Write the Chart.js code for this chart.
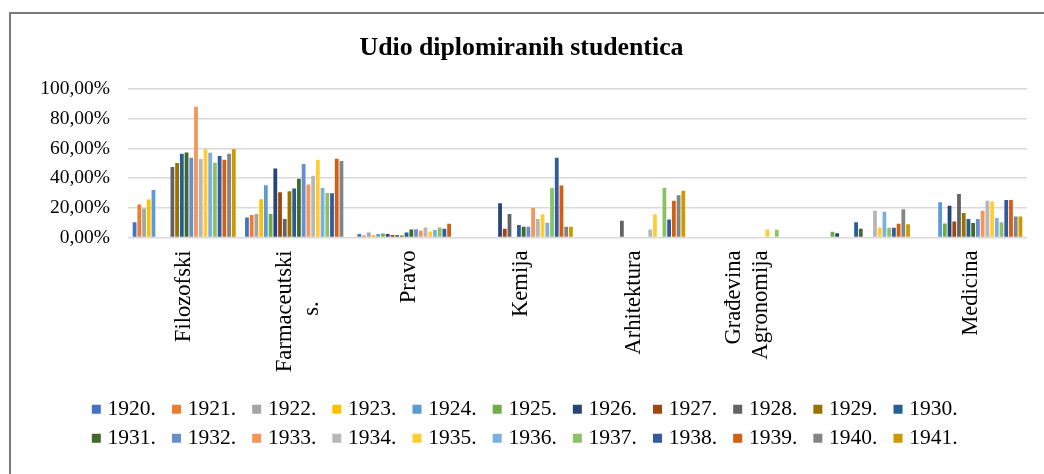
<!DOCTYPE html>
<html><head><meta charset="utf-8">
<script src="https://cdn.jsdelivr.net/npm/chart.js@4"></script>
<style>
html,body{margin:0;padding:0;background:#fff;}
#wrap{position:relative;width:1044px;height:474px;overflow:hidden;}
#frame{position:absolute;left:9px;top:12px;width:1100px;height:500px;border-left:2px solid #7a7a7a;border-top:2px solid #7a7a7a;}
canvas{position:absolute;left:0;top:0;}
</style></head>
<body><div id="wrap"><div id="frame"></div><canvas id="c" width="1044" height="474"></canvas></div>
<script>
const categories = ['Filozofski', ['Farmaceutski', 's.\u00A0\u00A0\u00A0\u00A0\u00A0\u00A0\u00A0\u00A0\u00A0'], 'Pravo', 'Kemija', 'Arhitektura', ['Građevina', 'Agronomija'], '', 'Medicina'];
const years = ['1920.','1921.','1922.','1923.','1924.','1925.','1926.','1927.','1928.','1929.','1930.','1931.','1932.','1933.','1934.','1935.','1936.','1937.','1938.','1939.','1940.','1941.'];
const yTicks = [0, 20, 40, 60, 80, 100];

const y1920 = [10.2, 13.5, 2.3, null, null, null, null, null];
const y1921 = [22.3, 15.1, 1.4, null, null, null, null, null];
const y1922 = [19.6, 15.8, 3.4, null, null, null, null, null];
const y1923 = [25.5, 25.7, 1.6, null, null, null, null, null];
const y1924 = [32.0, 35.2, 2.3, null, null, null, null, 23.7];
const y1925 = [null, 15.8, 2.7, null, null, null, 3.8, 9.5];
const y1926 = [null, 46.5, 2.3, 23.0, null, null, 2.9, 21.4];
const y1927 = [null, 30.5, 1.6, 5.9, null, null, null, 10.8];
const y1928 = [47.4, 12.4, 1.6, 15.8, 11.3, null, null, 29.3];
const y1929 = [50.1, 31.2, 1.4, null, null, null, null, 16.5];
const y1930 = [56.4, 33.0, 3.4, 8.4, null, null, 10.2, 12.4];
const y1931 = [57.3, 39.5, 5.4, 7.2, null, null, 5.9, 9.7];
const y1932 = [53.7, 49.4, 5.6, 7.2, null, null, null, 12.4];
const y1933 = [88.0, 35.7, 4.7, 20.1, null, null, null, 18.0];
const y1934 = [52.8, 41.5, 6.8, 12.4, 5.4, null, 18.0, 24.8];
const y1935 = [59.4, 52.4, 4.1, 15.6, 15.6, 5.4, 6.8, 24.2];
const y1936 = [57.1, 33.4, 5.0, 9.9, null, null, 17.4, 13.1];
const y1937 = [50.3, 30.0, 6.8, 33.4, 33.4, 5.2, 6.5, 10.2];
const y1938 = [54.9, 29.8, 5.9, 53.7, 12.2, null, 6.5, 25.3];
const y1939 = [52.4, 53.0, 9.3, 35.0, 24.8, null, 9.3, 25.3];
const y1940 = [56.4, 51.5, null, 7.2, 28.4, null, 19.0, 14.2];
const y1941 = [59.4, null, null, 7.2, 31.4, null, 9.0, 14.2];

const seriesValues = [y1920,y1921,y1922,y1923,y1924,y1925,y1926,y1927,y1928,y1929,y1930,y1931,y1932,y1933,y1934,y1935,y1936,y1937,y1938,y1939,y1940,y1941];
const colors = ['#4472C4','#ED7D31','#A5A5A5','#FFC000','#5B9BD5','#70AD47','#264478','#9E480E','#636363','#997300','#255E91','#43682B','#698ED0','#F1975A','#B7B7B7','#FFCD33','#7CAFDD','#8CC168','#335AA1','#D26012','#848484','#CC9A00'];

const serif = 'Liberation Serif';
const datasets = years.map((y, i) => ({
  label: y,
  data: seriesValues[i],
  backgroundColor: colors[i],
  borderWidth: 0,
  categoryPercentage: 0.925,
  barPercentage: 0.8
}));

const layoutTweak = {
  id: 'layoutTweak',
  beforeLayout(chart) {
    const lg = chart.legend;
    if (lg && !lg._capPatched) {
      const orig = lg.update;
      lg.update = function (w, h, m) { return orig.call(this, Math.min(w, 940), h, m); };
      lg._capPatched = true;
    }
  },
  afterLayout(chart) {
    const lg = chart.legend;
    if (lg) { lg.left += 7; lg.right += 7; }
    const tb = chart.titleBlock;
    if (tb) { tb.left -= 4.5; tb.right -= 4.5; }
  }
};

new Chart(document.getElementById('c'), {
  type: 'bar',
  data: { labels: categories, datasets },
  plugins: [layoutTweak],
  options: {
    responsive: false,
    animation: false,
    devicePixelRatio: 1,
    layout: { padding: { left: 25, right: 17, top: 13, bottom: 15 } },
    plugins: {
      title: {
        display: true,
        text: 'Udio diplomiranih studentica',
        color: '#000',
        font: { family: serif, size: 25.8, weight: 'bold', lineHeight: 1.2 },
        padding: { top: 20, bottom: 25 }
      },
      legend: {
        position: 'bottom',
        labels: {
          usePointStyle: true,
          pointStyle: 'rect',
          boxWidth: 1,
          boxHeight: 9,
          padding: 7.5,
          color: '#000',
          font: { family: serif, size: 21.5 },
          generateLabels(chart) {
            const items = Chart.defaults.plugins.legend.labels.generateLabels(chart);
            items.forEach(it => { it.text = it.text + '\u2002\u200A'; it.pointStyle = 'rect'; it.lineWidth = 0; it.rotation = 0; });
            return items;
          }
        }
      },
      tooltip: { enabled: false }
    },
    scales: {
      x: {
        grid: { display: false },
        border: { display: false },
        ticks: {
          autoSkip: false,
          maxRotation: 90,
          minRotation: 90,
          padding: 5,
          color: '#000',
          font: { family: serif, size: 22.6, lineHeight: 1.2 }
        },
        afterFit(s) { s.height = 153.5; },
        afterUpdate(s) {
          if (!s._splitPatched && typeof s._computeLabelItems === 'function') {
            const orig = s._computeLabelItems;
            s._computeLabelItems = function (ca) {
              const items = orig.call(this, ca);
              items.forEach(it => {
                if (Array.isArray(it.label) && it.label.length > 1 && it.options && it.options.translation) {
                  it.options.translation[0] -= 12;
                }
              });
              return items;
            };
            s._splitPatched = true;
            s._labelItems = null;
          }
        }
      },
      y: {
        min: 0,
        max: 100,
        afterBuildTicks(s) { s.ticks = yTicks.map(v => ({ value: v })); },
        ticks: {
          padding: 18,
          color: '#000',
          font: { family: serif, size: 19.5 },
          callback: v => v.toFixed(2).replace('.', ',') + '%'
        },
        grid: { color: '#d9d9d9', lineWidth: 1.5, drawTicks: false },
        border: { display: false },
        afterFit(s) { s.width = 103; }
      }
    }
  }
});
</script>
</body></html>
